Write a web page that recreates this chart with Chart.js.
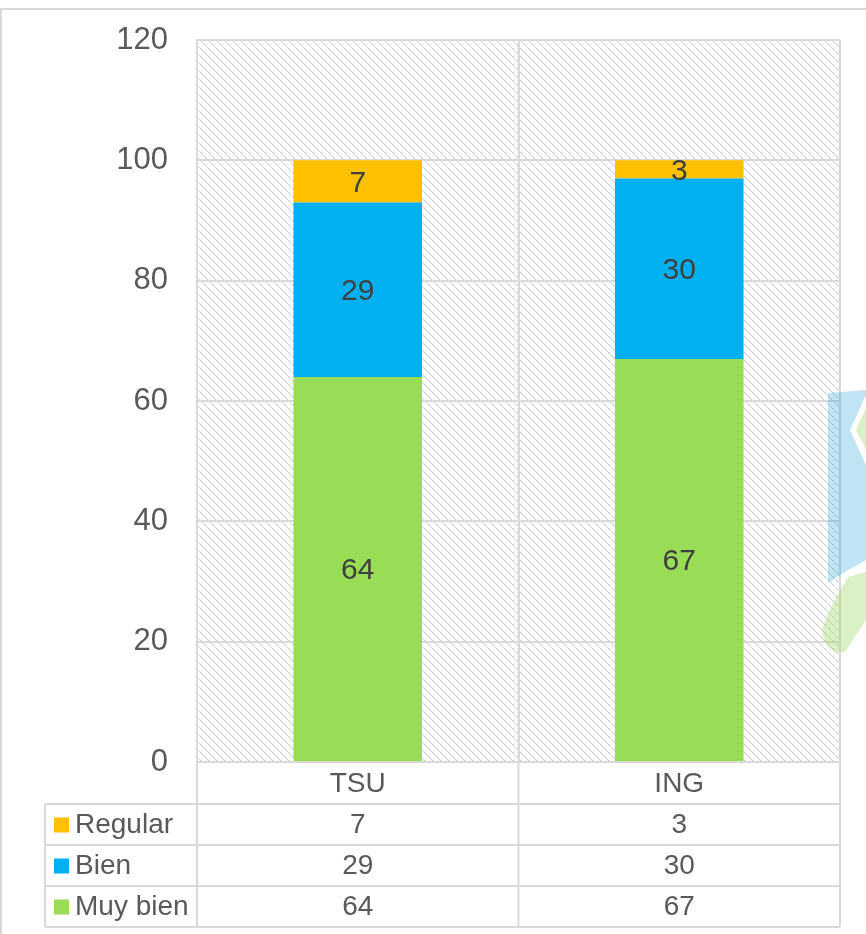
<!DOCTYPE html>
<html>
<head>
<meta charset="utf-8">
<script src="https://cdn.jsdelivr.net/npm/chart.js@4"></script>
<style>
  body { margin: 0; background: #fff; }
  canvas { display: block; }
</style>
</head>
<body>
<canvas id="myChart" width="866" height="934"></canvas>
<script>
const categories = ['TSU', 'ING'];
const regular = [7, 3];
const bien = [29, 30];
const muyBien = [64, 67];
const yTicks = [0, 20, 40, 60, 80, 100, 120];

const FONT = '"Liberation Sans", Arial, sans-serif';
const GRID = '#d9d9d9';

// hatched background like the excel plot area
function makePattern(ctx) {
    const tile = document.createElement('canvas');
    tile.width = 8; tile.height = 8;
    const t = tile.getContext('2d');
    t.fillStyle = '#fff';
    t.fillRect(0, 0, 8, 8);
    t.fillStyle = '#d4d4d4';
    for (let y = 0; y < 8; y++) {
        for (let x = 0; x < 8; x++) {
            const d = (x - y + 16) % 8;
            if (d === 0 || (d === 1 && y % 4 === 0)) t.fillRect(x, y, 1, 1);
        }
    }
    return ctx.createPattern(tile, 'repeat');
}

const extras = {
    id: 'extras',
    beforeDraw(chart) {
        const { ctx, chartArea: a } = chart;
        ctx.save();
        ctx.fillStyle = makePattern(ctx);
        ctx.fillRect(a.left, a.top, a.right - a.left, a.bottom - a.top);
        ctx.restore();
    },
    afterDatasetsDraw(chart) {
        const { ctx } = chart;
        ctx.save();
        ctx.font = '30px ' + FONT;
        ctx.fillStyle = '#404040';
        ctx.textAlign = 'center';
        ctx.textBaseline = 'middle';
        chart.data.datasets.forEach((ds, i) => {
            chart.getDatasetMeta(i).data.forEach((bar, j) => {
                const y = (bar.y + bar.base) / 2 + 2;
                ctx.fillText(String(ds.data[j]), bar.x, y);
            });
        });
        ctx.restore();
    },
    afterDraw(chart) {
        const { ctx, chartArea: a, scales } = chart;
        const xs = scales.x;
        const mid = (xs.getPixelForValue(0) + xs.getPixelForValue(1)) / 2;
        const cols = [a.left, mid, a.right];
        const headH = 42, rowH = 41, tableLeft = 45;
        const rows = [
            { label: 'Regular', color: '#FFC000', data: regular },
            { label: 'Bien', color: '#00B0F0', data: bien },
            { label: 'Muy bien', color: '#99DC56', data: muyBien }
        ];
        ctx.save();
        ctx.strokeStyle = GRID;
        ctx.lineWidth = 2;
        const top = a.bottom;
        const bottom = top + headH + rowH * rows.length;
        ctx.beginPath();
        // horizontal lines
        ctx.moveTo(tableLeft, top + headH); ctx.lineTo(a.right, top + headH);
        for (let r = 1; r <= rows.length; r++) {
            const y = top + headH + rowH * r;
            ctx.moveTo(tableLeft, y); ctx.lineTo(a.right, y);
        }
        // vertical lines
        cols.forEach(x => { ctx.moveTo(x, top); ctx.lineTo(x, bottom); });
        ctx.moveTo(tableLeft, top + headH); ctx.lineTo(tableLeft, bottom);
        ctx.stroke();

        ctx.fillStyle = '#595959';
        ctx.textBaseline = 'middle';
        ctx.textAlign = 'center';
        ctx.font = '28px ' + FONT;
        categories.forEach((c, j) => {
            ctx.fillText(c, (cols[j] + cols[j + 1]) / 2, top + headH / 2 + 1);
        });
        rows.forEach((row, r) => {
            const cy = top + headH + rowH * r + rowH / 2 + 1;
            ctx.fillStyle = row.color;
            ctx.fillRect(54, cy - 8, 15, 15);
            ctx.fillStyle = '#595959';
            ctx.textAlign = 'left';
            ctx.fillText(row.label, 75, cy);
            ctx.textAlign = 'center';
            row.data.forEach((v, j) => {
                ctx.fillText(String(v), (cols[j] + cols[j + 1]) / 2, cy);
            });
        });

        // outer chart frame
        ctx.beginPath();
        ctx.moveTo(0, 9); ctx.lineTo(866, 9);
        ctx.moveTo(1, 9); ctx.lineTo(1, 934);
        ctx.stroke();

        // faint logo at right edge
        ctx.fillStyle = 'rgba(0, 150, 215, 0.25)';
        ctx.beginPath();
        ctx.moveTo(828, 393); ctx.lineTo(866, 390); ctx.lineTo(866, 560);
        ctx.lineTo(845, 572); ctx.lineTo(828, 583); ctx.closePath();
        ctx.fill();
        ctx.fillStyle = '#fff';
        ctx.beginPath();
        ctx.moveTo(866, 395); ctx.lineTo(850, 430); ctx.lineTo(866, 465); ctx.closePath();
        ctx.fill();
        ctx.fillStyle = 'rgba(150, 215, 90, 0.35)';
        ctx.beginPath();
        ctx.moveTo(866, 408); ctx.lineTo(856, 430); ctx.lineTo(866, 450); ctx.closePath();
        ctx.fill();
        ctx.beginPath();
        ctx.moveTo(866, 572); ctx.lineTo(848, 577);
        ctx.quadraticCurveTo(828, 610, 822, 630);
        ctx.quadraticCurveTo(825, 655, 845, 652);
        ctx.lineTo(866, 620); ctx.closePath();
        ctx.fill();
        ctx.restore();
    }
};

const ctx = document.getElementById('myChart').getContext('2d');
new Chart(ctx, {
    type: 'bar',
    data: {
        labels: categories,
        datasets: [
            { label: 'Muy bien', data: muyBien, backgroundColor: '#99DC56' },
            { label: 'Bien', data: bien, backgroundColor: '#00B0F0' },
            { label: 'Regular', data: regular, backgroundColor: '#FFC000' }
        ]
    },
    options: {
        responsive: false,
        animation: false,
        devicePixelRatio: 1,
        datasets: {
            bar: { barPercentage: 0.4, categoryPercentage: 1 }
        },
        layout: {
            padding: { left: 0, right: 26, top: 40, bottom: 172 }
        },
        scales: {
            x: {
                stacked: true,
                ticks: { display: false },
                grid: { color: GRID, lineWidth: 2, offset: true, drawTicks: false },
                border: { color: GRID, width: 2 },
                afterFit(scale) { scale.height = 0; }
            },
            y: {
                stacked: true,
                min: 0,
                max: 120,
                afterBuildTicks(scale) { scale.ticks = yTicks.map(v => ({ value: v })); },
                ticks: { color: '#595959', font: { size: 31, family: FONT }, padding: 29 },
                grid: { color: GRID, lineWidth: 2, drawTicks: false },
                border: { color: GRID, width: 2 },
                afterFit(scale) {
                    scale.width = 197;
                    scale.paddingTop = 0;
                    scale.paddingBottom = 0;
                }
            }
        },
        plugins: {
            legend: { display: false },
            tooltip: { enabled: false }
        }
    },
    plugins: [extras]
});
</script>
</body>
</html>
